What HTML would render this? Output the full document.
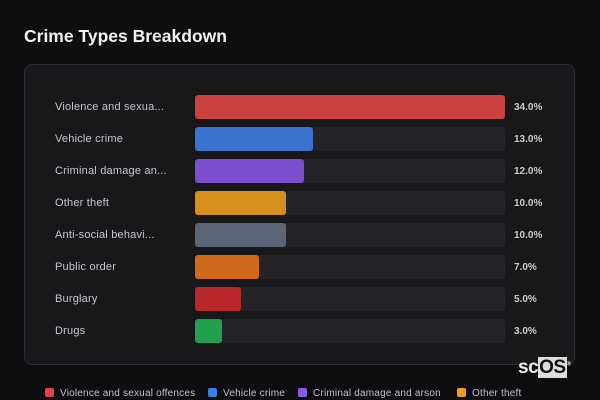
<!DOCTYPE html>
<html><head><style>
body{margin:0;width:600px;height:400px;background:#0e0e11;font-family:"Liberation Sans",sans-serif;position:relative;overflow:hidden;color:#ddd}
.t{position:absolute;left:24px;top:26px;font-size:17.5px;font-weight:bold;color:#f2f2f2}
.p{position:absolute;left:24px;top:64px;width:551px;height:301px;background:#18181b;border:1px solid #2c2c31;border-radius:8px;box-sizing:border-box}
.r{position:absolute;left:0;width:600px;height:24px}
.l{position:absolute;left:55px;top:6px;font-size:11px;color:#c8c8cc;letter-spacing:0.2px}
.tr{position:absolute;left:195px;top:0;width:310px;height:24px;background:#242428;border-radius:3px}
.b{position:absolute;left:195px;top:0;height:24px;border-radius:3px}
.v{position:absolute;left:514px;top:7px;font-size:10px;font-weight:bold;color:#ccc}
.lg{position:absolute;top:388px;font-size:10px;color:#c0c0c8;white-space:nowrap;letter-spacing:0.2px}
.lg i{display:inline-block;width:9px;height:9px;border-radius:2px;margin-right:6px;vertical-align:-1px}
</style></head><body>
<div class="t">Crime Types Breakdown</div>
<div class="p"></div>
<div class="r" style="top:95px"><div class="l">Violence and sexua...</div><div class="tr"></div><div class="b" style="width:310px;background:#c94141"></div><div class="v">34.0%</div></div>
<div class="r" style="top:127px"><div class="l">Vehicle crime</div><div class="tr"></div><div class="b" style="width:118px;background:#3a72d0"></div><div class="v">13.0%</div></div>
<div class="r" style="top:159px"><div class="l">Criminal damage an...</div><div class="tr"></div><div class="b" style="width:109px;background:#7a50d0"></div><div class="v">12.0%</div></div>
<div class="r" style="top:191px"><div class="l">Other theft</div><div class="tr"></div><div class="b" style="width:91px;background:#d4901a"></div><div class="v">10.0%</div></div>
<div class="r" style="top:223px"><div class="l">Anti-social behavi...</div><div class="tr"></div><div class="b" style="width:91px;background:#5a6576"></div><div class="v">10.0%</div></div>
<div class="r" style="top:255px"><div class="l">Public order</div><div class="tr"></div><div class="b" style="width:64px;background:#d0691c"></div><div class="v">7.0%</div></div>
<div class="r" style="top:287px"><div class="l">Burglary</div><div class="tr"></div><div class="b" style="width:46px;background:#b82828"></div><div class="v">5.0%</div></div>
<div class="r" style="top:319px"><div class="l">Drugs</div><div class="tr"></div><div class="b" style="width:27px;background:#22a050"></div><div class="v">3.0%</div></div>
<div style="position:absolute;left:518px;top:357px;font-size:19px;font-weight:bold;color:#eee;letter-spacing:-0.5px">sc<span style="background:#ddd;color:#111;padding:0 1px">OS</span><sup style="font-size:6px">®</sup></div>
<div class="lg" style="left:45px"><i style="background:#e04444"></i>Violence and sexual offences</div>
<div class="lg" style="left:208px"><i style="background:#3a80e0"></i>Vehicle crime</div>
<div class="lg" style="left:298px"><i style="background:#8a5ae8"></i>Criminal damage and arson</div>
<div class="lg" style="left:457px"><i style="background:#f0a018"></i>Other theft</div>
</body></html>
